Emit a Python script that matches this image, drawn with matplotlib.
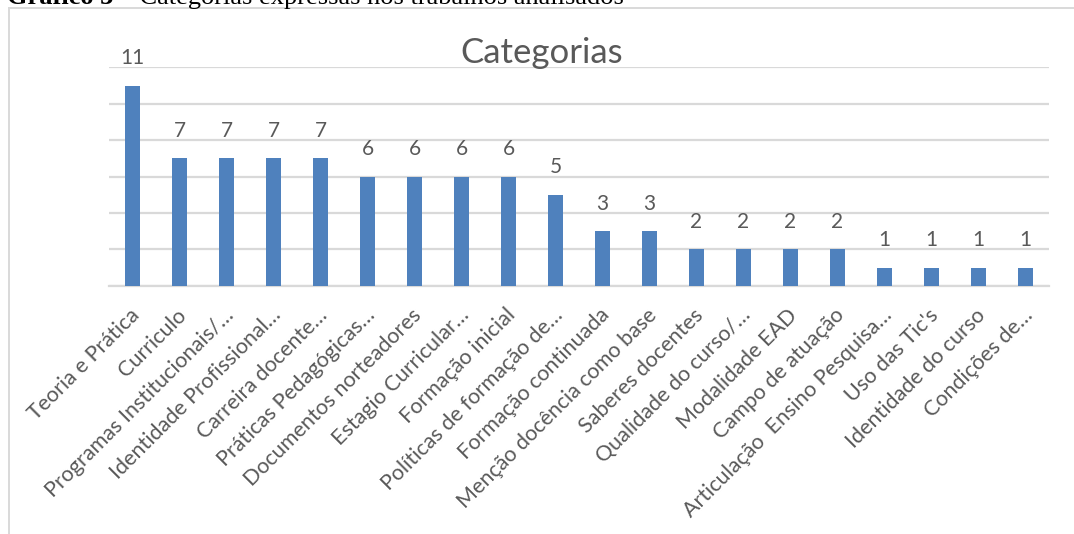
import matplotlib
matplotlib.use("Agg")
import matplotlib.pyplot as plt
from matplotlib.lines import Line2D
import matplotlib.transforms as mtransforms

categories = [
    "Teoria e Prática", "Curriculo", "Programas Institucionais/…",
    "Identidade Profissional…", "Carreira docente…", "Práticas Pedagógicas…",
    "Documentos norteadores", "Estagio Curricular…", "Formação inicial",
    "Políticas de formação de…", "Formação continuada",
    "Menção docência como base", "Saberes docentes", "Qualidade do curso/…",
    "Modalidade EAD", "Campo de atuação", "Articulação  Ensino Pesquisa…",
    "Uso das Tic's", "Identidade do curso", "Condições de…",
]
values = [11, 7, 7, 7, 7, 6, 6, 6, 6, 5, 3, 3, 2, 2, 2, 2, 1, 1, 1, 1]
title = "Categorias"
caption_bold = "Gráfico 3"
caption_rest = " – Categorias expressas nos trabalhos analisados"

W, H = 1074, 534
DPI = 100
BAR = "#4F81BD"
TXT = "#595959"
GRID = "#D9D9D9"
FONT = ["Lato", "DejaVu Sans"]

fig = plt.figure(figsize=(W / DPI, H / DPI), dpi=DPI)
fig.patch.set_facecolor("white")

ax = fig.add_axes([109 / W, 1 - 285.7 / H, (1049 - 109) / W, (285.7 - 67.3) / H])
x = list(range(len(categories)))
ax.bar(x, values, width=0.32, color=BAR, zorder=3)
ax.set_xlim(-0.5, len(categories) - 0.5)
ax.set_ylim(0, 12)
ax.set_yticks(range(0, 13, 2))
ax.yaxis.grid(True, color=GRID, linewidth=1.6, zorder=0)
ax.tick_params(axis="y", left=False, labelleft=False)
ax.tick_params(axis="x", length=0, pad=19)
for s in ["top", "right", "left"]:
    ax.spines[s].set_visible(False)
ax.spines["bottom"].set_color(GRID)
ax.spines["bottom"].set_linewidth(1.6)

ax.set_xticks(x)
offset = mtransforms.ScaledTranslation(4 / DPI, 0, fig.dpi_scale_trans)
labels = ax.set_xticklabels(categories, rotation=45, ha="right", va="center",
                            rotation_mode="anchor", fontsize=15.5, color=TXT,
                            family=FONT)
for lb in labels:
    lb.set_transform(lb.get_transform() + offset)

for xi, v in zip(x, values):
    ax.annotate(str(v), (xi, v), xytext=(0, 12.5), textcoords="offset points",
                ha="center", va="bottom", fontsize=15, color=TXT, family=FONT)

fig.text(542 / W, 1 - 63 / H, title, ha="center", va="baseline",
         fontsize=25, color=TXT, family=FONT)

# caption (partly cut off at the top, as in the source)
t1 = fig.text(7 / W, 1 - 4 / H, caption_bold, ha="left", va="baseline",
              fontsize=19, fontweight="bold", family=["Liberation Serif"],
              color="black")
fig.canvas.draw()
bb = t1.get_window_extent()
fig.text(bb.x1 / W, 1 - 4 / H, caption_rest, ha="left", va="baseline",
         fontsize=19, family=["Liberation Serif"], color="black")

# chart border (left and top visible)
fig.add_artist(Line2D([8.5 / W, 8.5 / W], [0, 1 - 8 / H], color=GRID,
                      linewidth=1.4, transform=fig.transFigure))
fig.add_artist(Line2D([8.5 / W, 1], [1 - 8 / H, 1 - 8 / H], color=GRID,
                      linewidth=1.4, transform=fig.transFigure))

fig.savefig("out.png", dpi=DPI, facecolor="white")
